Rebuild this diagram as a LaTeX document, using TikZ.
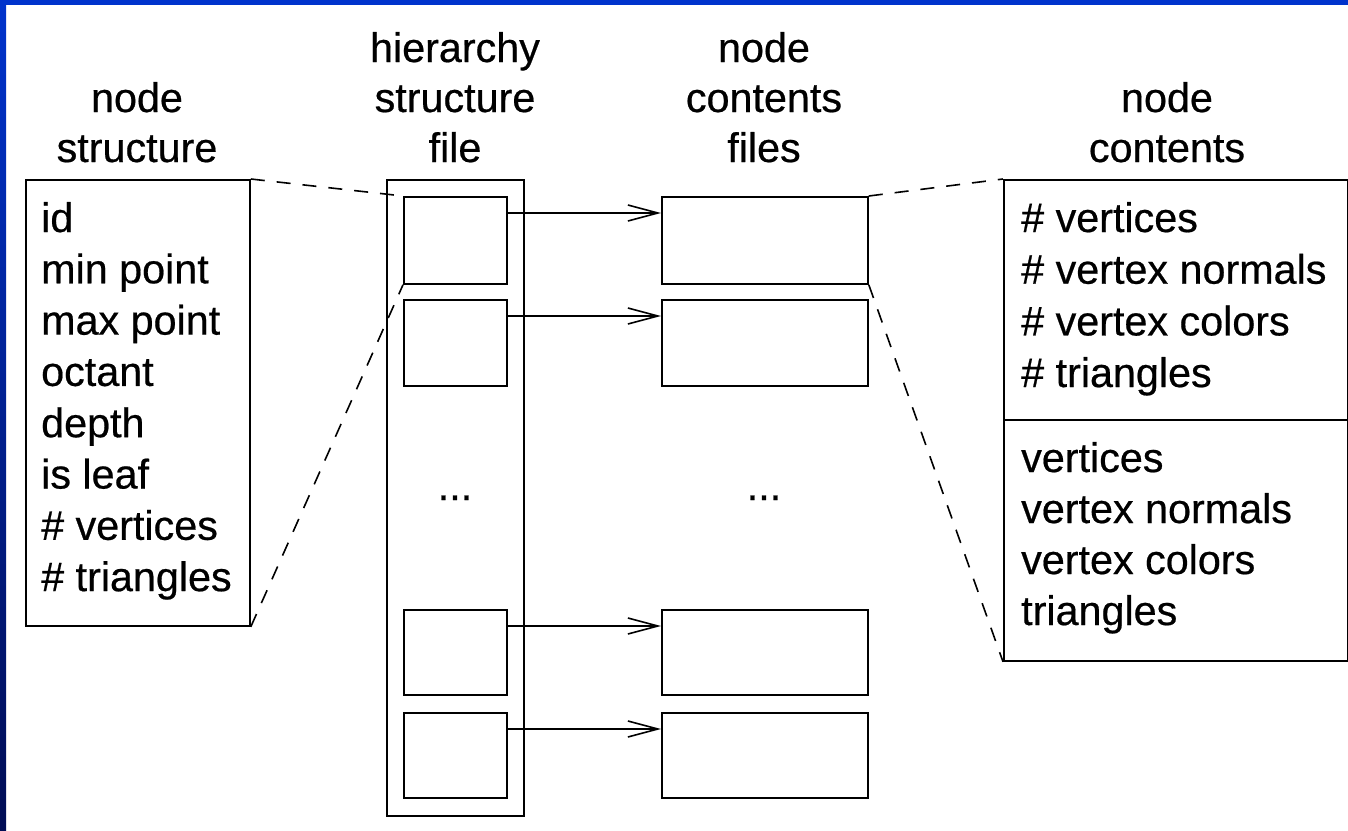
\documentclass[tikz,border=0pt]{standalone}
\usepackage{fontspec}
\setmainfont[RawFeature={embolden=0.5}]{Liberation Sans}
\usetikzlibrary{arrows.meta}
\begin{document}
\begin{tikzpicture}[x=1pt,y=-1pt,
  box/.style={draw, line width=1.8pt, rectangle, inner sep=0pt, anchor=north west},
  txt/.style={inner sep=0pt, anchor=base west, font=\fontsize{41.3}{48}\selectfont},
  head/.style={inner sep=0pt, anchor=base, font=\fontsize{41.3}{48}\selectfont},
  link/.style={line width=1.6pt, -{Straight Barb[length=30pt,width=16pt,line width=1.6pt]}},
  zoomline/.style={line width=1.6pt, dash pattern=on 14pt off 12pt},
]
\useasboundingbox (0,0) rectangle (1348,830);
\fill[white] (0,0) rectangle (1348,830);
% slide frame
\fill[fill={rgb,255:red,0;green,51;blue,204}] (0,0) rectangle (1348,5);
\shade[top color={rgb,255:red,0;green,51;blue,204}, bottom color={rgb,255:red,0;green,12;blue,84}] (0,0) rectangle (6,830);

% column headings
\node[head] (l1a) at (137,112) {node};
\node[head] (l1b) at (137,162) {structure};
\node[head] (l2a) at (455,62) {hierarchy};
\node[head] (l2b) at (455,112) {structure};
\node[head] (l2c) at (455,162) {file};
\node[head] (l3a) at (764,62) {node};
\node[head] (l3b) at (764,112) {contents};
\node[head] (l3c) at (764,162) {files};
\node[head] (l4a) at (1167,112) {node};
\node[head] (l4b) at (1167,162) {contents};

% node structure record
\node[box, minimum width=224pt, minimum height=446pt] (ns) at (25,179) {};
\node[txt] (ns1) at (41,232) {id};
\node[txt] (ns2) at (41,283.3) {min point};
\node[txt] (ns3) at (41,334.6) {max point};
\node[txt] (ns4) at (41,385.9) {octant};
\node[txt] (ns5) at (41,437.2) {depth};
\node[txt] (ns6) at (41,488.5) {is leaf};
\node[txt] (ns7) at (41,539.8) {\# vertices};
\node[txt] (ns8) at (41,591.1) {\# triangles};

% hierarchy structure file
\node[box, minimum width=137pt, minimum height=636pt] (hf) at (386,179) {};
\node[box, minimum width=103pt, minimum height=87pt] (h1) at (403,196) {};
\node[box, minimum width=103pt, minimum height=86pt] (h2) at (403,299) {};
\node[box, minimum width=103pt, minimum height=85pt] (h3) at (403,609) {};
\node[box, minimum width=103pt, minimum height=85pt] (h4) at (403,712) {};
\node[head] (hdots) at (455,500) {...};

% node contents files
\node[box, minimum width=206pt, minimum height=87pt] (c1) at (661,196) {};
\node[box, minimum width=206pt, minimum height=86pt] (c2) at (661,299) {};
\node[box, minimum width=206pt, minimum height=85pt] (c3) at (661,609) {};
\node[box, minimum width=206pt, minimum height=85pt] (c4) at (661,712) {};
\node[head] (cdots) at (764,500) {...};

% node contents record
\node[box, minimum width=344pt, minimum height=481pt] (nc) at (1003,179) {};
\coordinate (div) at (0,420);
\draw[line width=1.8pt] (nc.west |- div) -- (nc.east |- div);
\node[txt] (nc1) at (1021,232) {\# vertices};
\node[txt] (nc2) at (1021,283.7) {\# vertex normals};
\node[txt] (nc3) at (1021,335.4) {\# vertex colors};
\node[txt] (nc4) at (1021,387) {\# triangles};
\node[txt] (nc5) at (1021,472) {vertices};
\node[txt] (nc6) at (1021,523) {vertex normals};
\node[txt] (nc7) at (1021,574) {vertex colors};
\node[txt] (nc8) at (1021,625) {triangles};

% references from the hierarchy file to the contents files
\draw[link] ([yshift=-17pt]h1.north east) -- ([yshift=-17pt]c1.north west);
\draw[link] ([yshift=-17pt]h2.north east) -- ([yshift=-17pt]c2.north west);
\draw[link] ([yshift=-17pt]h3.north east) -- ([yshift=-17pt]c3.north west);
\draw[link] ([yshift=-17pt]h4.north east) -- ([yshift=-17pt]c4.north west);

% expansion lines
\draw[zoomline] (ns.north east) -- (h1.north west);
\draw[zoomline] (ns.south east) -- (h1.south west);
\draw[zoomline] (c1.north east) -- (nc.north west);
\draw[zoomline] (c1.south east) -- (nc.south west);
\end{tikzpicture}
\end{document}
